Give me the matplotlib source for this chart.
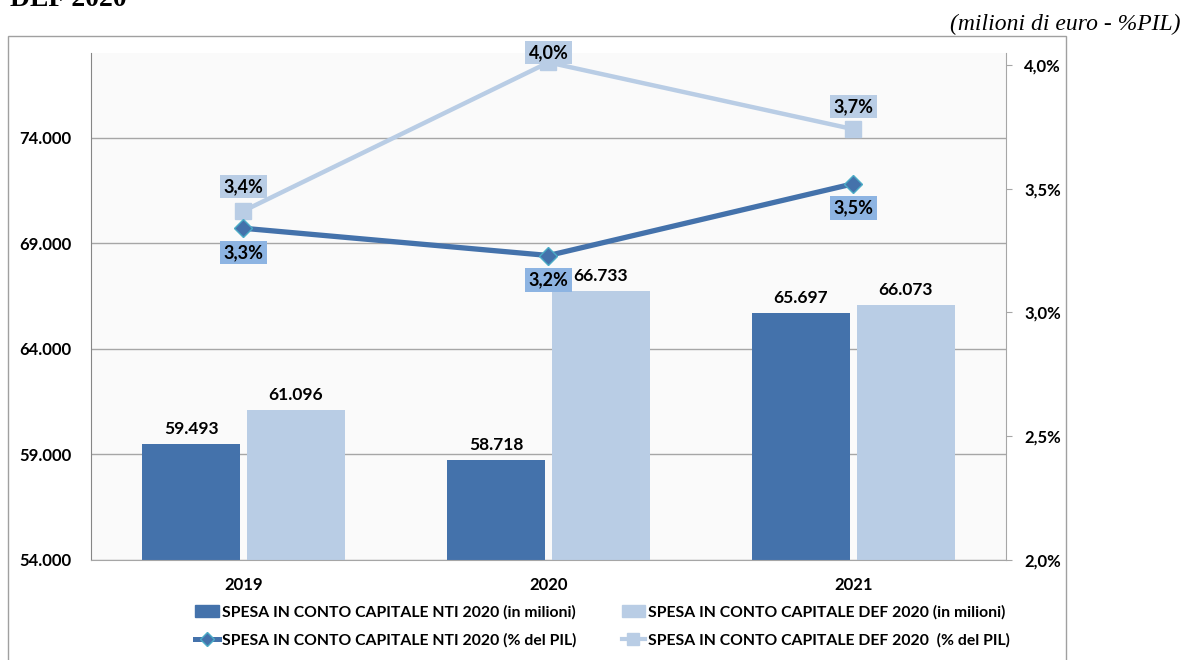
import matplotlib.pyplot as plt
from matplotlib.patches import Rectangle, Patch
from matplotlib.lines import Line2D

plt.rcParams['font.family'] = ['Lato', 'DejaVu Sans']

years = ['2019', '2020', '2021']
spesa_nti = [59493, 58718, 65697]
spesa_def = [61096, 66733, 66073]
pil_nti = [3.34, 3.23, 3.52]
pil_def = [3.41, 4.01, 3.74]

left_ticks = [54000, 59000, 64000, 69000, 74000]
right_ticks = [2.0, 2.5, 3.0, 3.5, 4.0]

label_nti = 'SPESA IN CONTO CAPITALE NTI 2020 (in milioni)'
label_def = 'SPESA IN CONTO CAPITALE DEF 2020 (in milioni)'
label_pnti = 'SPESA IN CONTO CAPITALE NTI 2020 (% del PIL)'
label_pdef = 'SPESA IN CONTO CAPITALE DEF 2020  (% del PIL)'

dark = '#4472ab'
light = '#b9cde5'
dark_box = '#8db4e2'
grid_c = '#a6a6a6'


def it_num(v):
    return f'{v:,}'.replace(',', '.')


def it_pct(v):
    return f'{v:.1f}'.replace('.', ',') + '%'


W, H = 1182, 660
fig = plt.figure(figsize=(W / 100, H / 100), dpi=100)

# outer frame and captions
fig.patches.append(Rectangle((8 / W, -0.05), (1066 - 8) / W, 1 - 36 / H + 0.05,
                             transform=fig.transFigure, fill=False,
                             ec='#a0a0a0', lw=1))
fig.text(1180 / W, 1 - 24 / H, '(milioni di euro - %PIL)', ha='right', va='center',
         family='Liberation Serif', style='italic', fontsize=17)
fig.text(10 / W, 1 - 6 / H, 'DEF 2020', ha='left', va='baseline',
         family='Liberation Serif', weight='bold', fontsize=20)

ax = fig.add_axes([91 / W, 1 - 560 / H, (1006 - 91) / W, (560 - 53) / H])
ax.set_facecolor('#fafafa')
x = range(len(years))
bw = 0.32
off = 0.172
xa = [i - off for i in x]
xb = [i + off for i in x]
ax.bar(xa, spesa_nti, bw, color=dark, zorder=2)
ax.bar(xb, spesa_def, bw, color=light, zorder=2)
for xs, vals in ((xa, spesa_nti), (xb, spesa_def)):
    for xi, v in zip(xs, vals):
        ax.annotate(it_num(v), (xi, v), xytext=(0, 5), textcoords='offset points',
                    ha='center', va='bottom', fontsize=12.5, weight='bold', zorder=3)

ax.set_xlim(-0.5, 2.5)
ax.set_ylim(54000, 78000)
ax.set_yticks(left_ticks)
ax.set_yticklabels([it_num(v) for v in left_ticks])
ax.set_xticks(list(x))
ax.set_xticklabels(years)
ax.tick_params(axis='y', length=0, pad=14, labelsize=12)
ax.tick_params(axis='x', length=0, pad=12, labelsize=12)
for lab in ax.get_xticklabels() + ax.get_yticklabels():
    lab.set_fontweight('bold')
ax.grid(axis='y', color=grid_c, lw=1, zorder=1)
ax.set_axisbelow(True)
ax.spines['top'].set_visible(False)
ax.spines['right'].set_visible(False)
ax.spines['left'].set_color('#868686')
ax.spines['bottom'].set_color(grid_c)

ax2 = ax.twinx()
ax2.plot(list(x), pil_nti, color=dark, lw=3.8, marker='D', ms=9,
         mfc=dark, mec='#4bacc6', mew=1, zorder=4)
ax2.plot(list(x), pil_def, color=light, lw=3.2, marker='s', ms=11.5,
         mfc=light, mec=light, zorder=3)
for xi, v in zip(x, pil_nti):
    ax2.annotate(it_pct(v), (xi, v), xytext=(0, -17.5), textcoords='offset points',
                 ha='center', va='center', fontsize=13, weight='bold',
                 bbox=dict(boxstyle='square,pad=0.18', fc=dark_box, ec='none'), zorder=5)
for xi, v, dy in zip(x, pil_def, (17.5, 7, 16.5)):
    ax2.annotate(it_pct(v), (xi, v), xytext=(0, dy), textcoords='offset points',
                 ha='center', va='center', fontsize=13, weight='bold',
                 bbox=dict(boxstyle='square,pad=0.18', fc=light, ec='none'), zorder=5)
ax2.set_ylim(2.0, 4.048)
ax2.set_yticks(right_ticks)
ax2.set_yticklabels([it_pct(v) for v in right_ticks])
ax2.tick_params(axis='y', length=4, color=grid_c, pad=9, labelsize=12)
for lab in ax2.get_yticklabels():
    lab.set_fontweight('bold')
for s in ('top', 'left', 'bottom'):
    ax2.spines[s].set_visible(False)
ax2.spines['right'].set_color(grid_c)

handles = [
    Patch(color=dark, label=label_nti),
    Line2D([], [], color=dark, lw=3.6, marker='D', ms=7, mfc=dark, mec='#4bacc6',
           label=label_pnti),
    Patch(color=light, label=label_def),
    Line2D([], [], color=light, lw=3, marker='s', ms=8, mfc=light, mec=light,
           label=label_pdef),
]
fig.legend(handles=handles, ncol=2, loc='upper left',
           bbox_to_anchor=(195 / W, 1 - 605 / H), frameon=False,
           borderpad=0, borderaxespad=0, handlelength=1.5,
           handleheight=0.75, handletextpad=0.2, columnspacing=2.9,
           labelspacing=0.85, prop={'weight': 'bold', 'size': 11.3})

fig.savefig('out.png', dpi=100)
